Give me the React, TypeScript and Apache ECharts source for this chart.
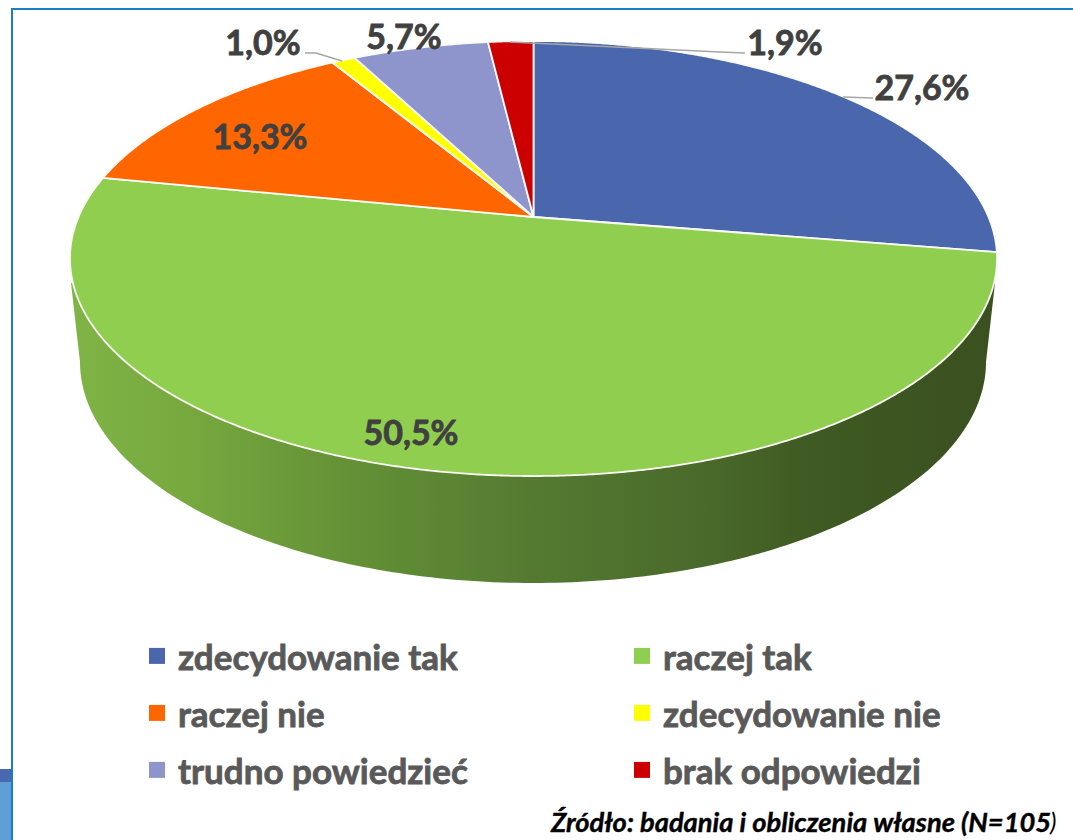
import React, { useEffect, useRef } from "react";
import * as echarts from "echarts";

const categories = ["zdecydowanie tak", "raczej tak", "raczej nie", "zdecydowanie nie", "trudno powiedzieć", "brak odpowiedzi"];
const values = [27.6, 50.5, 13.3, 1.0, 5.7, 1.9];
const colors = ["#4A66AC", "#8FCE4E", "#FF6600", "#FFFF00", "#8E94CC", "#CC0000"];
const labelCenters = [[922, 86], [411, 431], [260, 135], [263, 41], [404, 35], [785, 41]];
const legendCells = [[149, 638], [634, 638], [149, 695], [634, 695], [149, 752], [634, 752]];
const leaders = [
  [[843, 97], [873, 98]],
  [[305, 53], [316, 53], [342, 61]],
  [[510, 42], [720, 52], [745, 53]],
];
const sourceText = "Źródło: badania i obliczenia własne (N=105";

// Perspective projection of the pie's unit disc onto the picture
const CX = 533.5, AX = 455, CY = 217, BY = 168.2, K = -0.1908;
const project = (deg: number, r = 1): number[] => {
  const a = (deg * Math.PI) / 180;
  const X = r * Math.sin(a), Y = -r * Math.cos(a);
  const w = 1 + K * Y;
  return [CX + (AX * X) / w, (CY + BY * Y) / w];
};
const total = values.reduce((s, v) => s + v, 0);
const startAngle = (i: number) => (values.slice(0, i).reduce((s, v) => s + v, 0) / total) * 360;

const slicePoints = (i: number) => {
  const a0 = startAngle(i), a1 = startAngle(i + 1);
  const pts = [project(0, 0)];
  const n = Math.max(4, Math.ceil((a1 - a0) * 3));
  for (let j = 0; j <= n; j++) pts.push(project(a0 + ((a1 - a0) * j) / n));
  return pts;
};

const LOWER = { cx: 533, cy: 362, rx: 453, ry: 221 };
const wallPoints = () => {
  const pts: number[][] = [[995, 283]];
  for (let d = 0; d <= 180; d += 1) {
    const a = (d * Math.PI) / 180;
    pts.push([LOWER.cx + LOWER.rx * Math.cos(a), LOWER.cy + LOWER.ry * Math.sin(a)]);
  }
  pts.push([71, 283]);
  pts.push([CX, 300]);
  return pts;
};

const fmt = (v: number) => v.toFixed(1).replace(".", ",") + "%";

export default function App() {
  const ref = useRef<HTMLDivElement>(null);
  useEffect(() => {
    document.body.style.margin = "0";
    const chart = echarts.init(ref.current!, null, { renderer: "svg" });
    const wallFill = new echarts.graphic.LinearGradient(0, 0, 1, 0, [
      { offset: 0, color: "#7FB446" },
      { offset: 0.12, color: "#78A93F" },
      { offset: 0.3, color: "#649136" },
      { offset: 0.5, color: "#547A31" },
      { offset: 0.68, color: "#4A6A2B" },
      { offset: 0.8, color: "#3F5A22" },
      { offset: 1, color: "#3A5020" },
    ]);
    const series: any[] = [
      {
        type: "custom",
        name: "wall",
        coordinateSystem: "none",
        silent: true,
        data: [0],
        renderItem: () => ({ type: "polygon", shape: { points: wallPoints() }, style: { fill: wallFill } }),
      },
      ...categories.map((name, i) => ({
        type: "custom",
        name,
        coordinateSystem: "none",
        silent: true,
        itemStyle: { color: colors[i] },
        data: [values[i]],
        renderItem: () => ({
          type: "polygon",
          shape: { points: slicePoints(i) },
          style: { fill: colors[i], stroke: "#FBFBF5", lineWidth: 1.8, lineJoin: "round" },
        }),
      })),
      {
        type: "custom",
        name: "labels",
        coordinateSystem: "none",
        silent: true,
        data: values,
        renderItem: (params: any) => {
          const i = params.dataIndex;
          return {
            type: "text",
            style: {
              text: fmt(values[i]),
              x: labelCenters[i][0],
              y: labelCenters[i][1],
              align: "center",
              verticalAlign: "middle",
              fill: "#404040",
              stroke: "#404040",
              lineWidth: 0.8,
              font: "bold 34px Lato",
            },
          };
        },
      },
    ];
    chart.setOption({
      animation: false,
      backgroundColor: "#FFFFFF",
      legend: categories.map((name, i) => ({
        data: [{ name, icon: "rect" }],
        left: legendCells[i][0],
        top: legendCells[i][1],
        padding: 0,
        itemWidth: 16,
        itemHeight: 16,
        selectedMode: false,
        textStyle: {
          color: "#595959",
          fontFamily: "Lato",
          fontWeight: "bold",
          fontSize: 35,
          padding: [0, 0, 0, 8],
          textBorderColor: "#595959",
          textBorderWidth: 0.8,
        },
      })),
      series,
      graphic: [
        { type: "line", shape: { x1: 12, y1: 9, x2: 1073, y2: 9 }, style: { stroke: "#1B7CC8", lineWidth: 2 }, z: 1 },
        { type: "line", shape: { x1: 12, y1: 8, x2: 12, y2: 840 }, style: { stroke: "#1B7CC8", lineWidth: 2 }, z: 1 },
        { type: "rect", shape: { x: 0, y: 769, width: 11, height: 13 }, style: { fill: "#4A68AF" }, z: 1 },
        { type: "rect", shape: { x: 0, y: 782, width: 11, height: 58 }, style: { fill: "#5F9FD5" }, z: 1 },
        ...leaders.map((pts) => ({
          type: "polyline",
          shape: { points: pts },
          style: { stroke: "#A6A6A6", lineWidth: 1.5, fill: "none" },
          z: 20,
        })),
        {
          type: "text",
          x: 551,
          y: 821,
          z: 20,
          style: {
            text: sourceText,
            fill: "#000000",
            stroke: "#000000",
            lineWidth: 0.4,
            font: "italic bold 27.3px Lato",
            verticalAlign: "middle",
          },
        },
        {
          type: "text",
          x: 1050,
          y: 821,
          z: 20,
          style: { text: ")", fill: "#000000", font: "italic 25px Lato", verticalAlign: "middle" },
        },
      ],
    });
    return () => chart.dispose();
  }, []);
  return <div ref={ref} style={{ position: "absolute", left: 0, top: 0, width: 1073, height: 840 }} />;
}
